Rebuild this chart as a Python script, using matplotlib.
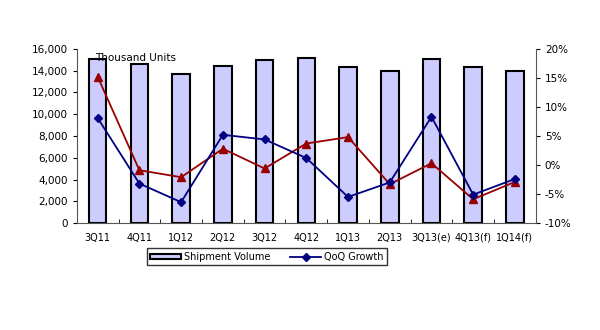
import numpy as np
import matplotlib.pyplot as plt
from matplotlib.ticker import FuncFormatter, FixedLocator

quarters = ['3Q11', '4Q11', '1Q12', '2Q12', '3Q12', '4Q12',
            '1Q13', '2Q13', '3Q13(e)', '4Q13(f)', '1Q14(f)']
shipments = [15080, 14650, 13670, 14380, 15020, 15200,
             14350, 13950, 15080, 14350, 13950]
qoq_growth = [8.1, -3.2, -6.4, 5.2, 4.4, 1.2, -5.5, -3.0, 8.3, -5.1, -2.4]
yoy_growth = [15.2, -0.9, -2.1, 2.8, -0.6, 3.7, 4.8, -3.3, 0.3, -5.9, -2.9]

plt.rcParams['font.family'] = 'DejaVu Sans'
plt.rcParams['font.size'] = 7

fig = plt.figure(figsize=(6, 3.3), dpi=100)
ax = fig.add_axes([0.128, 0.324, 0.765, 0.528])
x = np.arange(len(quarters))

bars = ax.bar(x, shipments, width=0.42, color='#CCCCFF', edgecolor='black',
              linewidth=1.5, label='Shipment Volume', zorder=2)
ax.set_ylim(0, 16000)
ax.set_yticks(range(0, 16001, 2000))
ax.yaxis.set_major_formatter(FuncFormatter(lambda v, p: f'{int(v):,}'))
ax.set_xlim(-0.5, len(quarters) - 0.5)
ax.set_xticks(x)
ax.set_xticklabels(quarters)
ax.xaxis.set_minor_locator(FixedLocator(np.arange(-0.5, len(quarters), 1)))
ax.tick_params(axis='x', which='major', length=0, pad=7)
ax.tick_params(axis='x', which='minor', length=3, direction='in')
ax.tick_params(axis='y', length=3, direction='out', labelsize=7.5)
ax.spines['top'].set_visible(False)
ax.spines['right'].set_visible(False)
ax.spines['left'].set_color('#555555')
ax.spines['bottom'].set_color('#555555')
ax.text(0.04, 0.975, 'Thousand Units', transform=ax.transAxes,
        fontsize=7.5, va='top', ha='left')

ax2 = ax.twinx()
line_q, = ax2.plot(x, qoq_growth, color='#000080', marker='D', markersize=4.5,
                   linewidth=1.3, label='QoQ Growth', zorder=4)
ax2.plot(x, yoy_growth, color='#990000', marker='^', markersize=6,
         linewidth=1.3, zorder=3)
ax2.set_ylim(-10, 20)
ax2.set_yticks(range(-10, 21, 5))
ax2.yaxis.set_major_formatter(FuncFormatter(lambda v, p: f'{int(v)}%'))
ax2.tick_params(axis='y', length=3, direction='out', labelsize=7.5)
ax2.spines['top'].set_visible(False)
ax2.spines['left'].set_visible(False)
ax2.spines['bottom'].set_visible(False)
ax2.spines['right'].set_color('#555555')

fig.legend([bars, line_q], ['Shipment Volume', 'QoQ Growth'],
           loc='center', bbox_to_anchor=(0.445, 0.222), ncol=2,
           frameon=True, fancybox=False, edgecolor='black',
           fontsize=7, handlelength=3.2, handleheight=0.5,
           columnspacing=2.0, borderpad=0.35, handletextpad=0.3)

fig.savefig('out.png', dpi=100)
